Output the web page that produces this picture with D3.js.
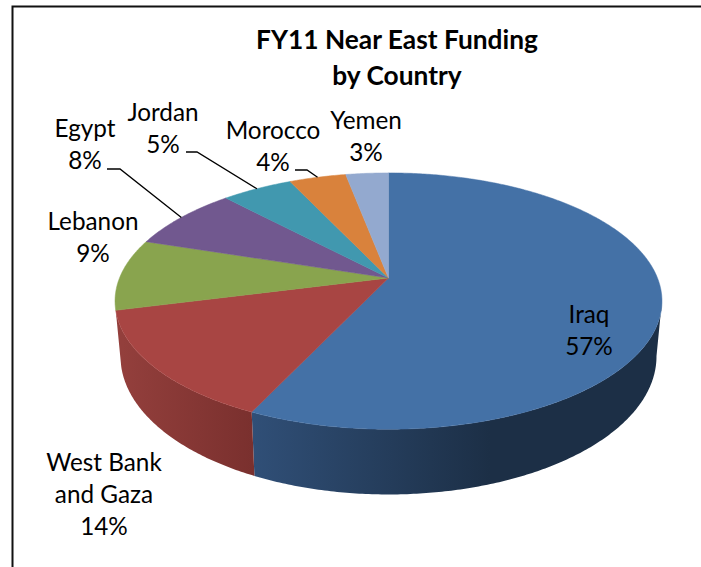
<!DOCTYPE html>
<html>
<head>
<meta charset="utf-8">
<script src="https://cdn.jsdelivr.net/npm/d3@7"></script>
<style>
  html, body { margin: 0; padding: 0; background: #fff; }
  svg { display: block; }
  text { font-family: Lato, "Open Sans", sans-serif; fill: #000; }
</style>
</head>
<body>
<div id="chart"></div>
<script>
// FY11 Near East funding, 3D pie drawn with a small perspective projection
const width = 701;
const height = 567;

const countries = ["Iraq", "West Bank and Gaza", "Lebanon", "Egypt", "Jordan", "Morocco", "Yemen"];
const shares = [57, 14, 9, 8, 5, 4, 3];
const topColors = ["#4471a6", "#a84543", "#89a44e", "#71588f", "#4198af", "#d9823c", "#93a9cf"];

// label placement: centre x, first baseline y
const labelLines = [["Iraq"], ["West Bank", "and Gaza"], ["Lebanon"], ["Egypt"], ["Jordan"], ["Morocco"], ["Yemen"]];
const labelX = [589, 104, 93, 85, 163, 273, 366];
const labelY = [323, 471, 230, 137, 121, 139, 129];
const lineGap = 32;

// leaders: slice index and the elbow start
const leaders = [
    { slice: 3, x0: 107, x1: 120, y: 169 },
    { slice: 4, x0: 186, x1: 197, y: 152 },
    { slice: 5, x0: 295, x1: 307, y: 170 }
];

// projection of the pie disc
const cx = 388.5, cy = 278;
const ax = 269, ay = 124, persp = 0.18;
const thickness = 53.5, bottomShrink = 0.98;

const persScale = t => 1 / (1 + persp * Math.cos(t));
const topPoint = t => [
    cx + ax * Math.sin(t) * persScale(t),
    cy - ay * Math.cos(t) * persScale(t)
];
const bottomPoint = t => {
    const p = topPoint(t);
    return [cx + (p[0] - cx) * bottomShrink, p[1] + thickness * persScale(t)];
};

const arcAngles = (a, b) => {
    const n = Math.max(2, Math.ceil((b - a) / 0.01));
    return d3.range(n + 1).map(i => a + (b - a) * i / n);
};

const line = d3.line();

const svg = d3.select("#chart")
    .append("svg")
    .attr("width", width)
    .attr("height", height);

svg.append("rect").attr("width", width).attr("height", height).attr("fill", "#fff");

// frame only shows on the top and left in the source image
svg.append("path")
    .attr("d", `M12.5,${height}V6.5H${width}`)
    .attr("fill", "none")
    .attr("stroke", "#111")
    .attr("stroke-width", 2);

const slices = d3.pie().sort(null)(shares);

// side shading
const defs = svg.append("defs");
const sideStops = [
    { id: "sideBlue", x1: 252, x2: 490, stops: ["#304f77", "#1c2f46"] },
    { id: "sideRed", x1: 122, x2: 252, stops: ["#933f3c", "#7a302e"] }
];
sideStops.forEach(g => {
    const grad = defs.append("linearGradient")
        .attr("id", g.id)
        .attr("gradientUnits", "userSpaceOnUse")
        .attr("x1", g.x1).attr("x2", g.x2).attr("y1", 0).attr("y2", 0);
    grad.append("stop").attr("offset", 0).attr("stop-color", g.stops[0]);
    grad.append("stop").attr("offset", 1).attr("stop-color", g.stops[1]);
});

// only the front of the wall is visible: right silhouette round to the end of slice 2
const wallStart = 1.75;
[0, 1].forEach(i => {
    const a = Math.max(slices[i].startAngle, wallStart);
    const b = slices[i].endAngle;
    const angles = arcAngles(a, b);
    const outline = angles.map(topPoint).concat(angles.slice().reverse().map(bottomPoint));
    svg.append("path")
        .attr("d", line(outline) + "Z")
        .attr("fill", `url(#${sideStops[i].id})`);
});

// top of the disc
svg.selectAll("path.slice")
    .data(slices)
    .enter()
    .append("path")
    .attr("class", "slice")
    .attr("d", d => line([[cx, cy]].concat(arcAngles(d.startAngle, d.endAngle).map(topPoint))) + "Z")
    .attr("fill", (d, i) => topColors[i])
    .attr("stroke", (d, i) => topColors[i])
    .attr("stroke-width", 0.5);

// leader lines
leaders.forEach(l => {
    const s = slices[l.slice];
    const end = topPoint((s.startAngle + s.endAngle) / 2);
    svg.append("path")
        .attr("d", line([[l.x0, l.y], [l.x1, l.y], end]))
        .attr("fill", "none")
        .attr("stroke", "#000")
        .attr("stroke-width", 1.3);
});

// data labels
countries.forEach((c, i) => {
    const rows = labelLines[i].concat([shares[i] + "%"]);
    const label = svg.append("text")
        .attr("text-anchor", "middle")
        .style("font-size", "24.3px");
    rows.forEach((row, j) => {
        label.append("tspan")
            .attr("x", labelX[i])
            .attr("y", labelY[i] + j * lineGap)
            .text(row);
    });
});

// title
const title = svg.append("text")
    .attr("text-anchor", "middle")
    .style("font-size", "26.3px")
    .style("font-weight", "700");
["FY11 Near East Funding", "by Country"].forEach((row, j) => {
    title.append("tspan")
        .attr("x", 397)
        .attr("y", 49 + j * 36)
        .text(row);
});
</script>
</body>
</html>
